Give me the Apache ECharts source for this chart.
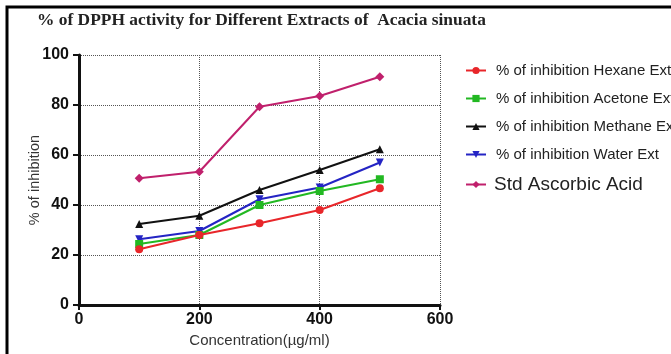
<!DOCTYPE html>
<html><head><meta charset="utf-8">
<script src="https://cdn.jsdelivr.net/npm/echarts@6/dist/echarts.min.js"></script>
<style>html,body{margin:0;padding:0;background:#fff}#c{width:671px;height:354px}</style>
</head><body><div id="c"></div>
<script>
const concentrations = [100, 200, 300, 400, 500];
const hexane = [22.3, 28.0, 32.7, 38.0, 46.7];
const acetone = [24.4, 28.0, 40.0, 45.6, 50.3];
const methane = [32.4, 35.7, 46.0, 54.0, 62.3];
const water = [26.3, 29.6, 42.3, 47.0, 57.0];
const ascorbic = [50.7, 53.3, 79.3, 83.6, 91.3];
const seriesNames = ['% of inhibition Hexane Ext', '% of inhibition Acetone Ext', '% of inhibition Methane Ext', '% of inhibition Water Ext', 'Std Ascorbic Acid'];
const xTicks = [0, 200, 400, 600];
const yTicks = [0, 20, 40, 60, 80, 100];

const colors = ['#e8262a', '#22b822', '#111111', '#2424c4', '#c0206c'];
const symbols = ['circle', 'rect', 'triangle', 'triangle', 'diamond'];
const rotations = [0, 0, 0, 180, 0];
const sizes = [8, 8, 8, 8, 9];
const allData = [hexane, acetone, methane, water, ascorbic];

const chart = echarts.init(document.getElementById('c'), null, {renderer: 'canvas'});
chart.setOption({
  animation: false,
  backgroundColor: '#fff',
  title: {
    text: '% of DPPH activity for Different Extracts of  Acacia sinuata',
    left: 37, top: 12, padding: 0,
    textStyle: {fontFamily: 'Liberation Serif', fontWeight: 'bold', fontSize: 17.4, color: '#222'}
  },
  graphic: [{
    type: 'polyline', silent: true,
    shape: {points: [[7, 360], [7, 7], [671, 7]]},
    style: {stroke: '#000', lineWidth: 3, fill: null}
  }],
  legend: {
    orient: 'vertical', left: 465, top: 63, padding: 0,
    itemWidth: 20, itemHeight: 9, itemGap: 13,
    textStyle: {fontFamily: 'Arial, Liberation Sans', fontSize: 15, color: '#222', padding: [0, 0, 0, 5]},
    data: seriesNames.map((n, i) => i === 4 ? {name: n, textStyle: {fontSize: 19, padding: [0, 0, 0, 3]}} : {name: n})
  },
  grid: {left: 79, right: 231, top: 55, bottom: 49, containLabel: false},
  xAxis: {
    type: 'value', min: xTicks[0], max: xTicks[xTicks.length - 1], interval: 200,
    name: 'Concentration(µg/ml)', nameLocation: 'middle', nameGap: 26,
    nameTextStyle: {fontFamily: 'Arial, Liberation Sans', fontSize: 15, color: '#333'},
    axisLine: {lineStyle: {color: '#111', width: 3}},
    axisTick: {show: true, length: 5, lineStyle: {color: '#111', width: 2}},
    axisLabel: {fontFamily: 'Arial, Liberation Sans', fontWeight: 'bold', fontSize: 16, color: '#111', margin: 7},
    splitLine: {show: true, lineStyle: {type: 'dotted', color: '#555', width: 1}}
  },
  yAxis: {
    type: 'value', min: yTicks[0], max: yTicks[yTicks.length - 1], interval: 20,
    name: '% of inhibition', nameLocation: 'middle', nameGap: 37, nameMoveOverlap: false,
    nameTextStyle: {fontFamily: 'Arial, Liberation Sans', fontSize: 14.5, color: '#333'},
    axisLine: {show: true, lineStyle: {color: '#111', width: 3}},
    axisTick: {show: true, length: 6, lineStyle: {color: '#111', width: 2}},
    axisLabel: {fontFamily: 'Arial, Liberation Sans', fontWeight: 'bold', fontSize: 16, color: '#111', margin: 10},
    splitLine: {show: true, lineStyle: {type: 'dotted', color: '#555', width: 1}}
  },
  series: allData.map((d, i) => ({
    name: seriesNames[i], type: 'line',
    data: concentrations.map((c, j) => [c, d[j]]),
    symbol: symbols[i], symbolSize: sizes[i], symbolRotate: rotations[i],
    lineStyle: {color: colors[i], width: 2},
    itemStyle: {color: colors[i]},
    z: i === 4 ? 2 : 5 - i
  }))
});
</script></body></html>
